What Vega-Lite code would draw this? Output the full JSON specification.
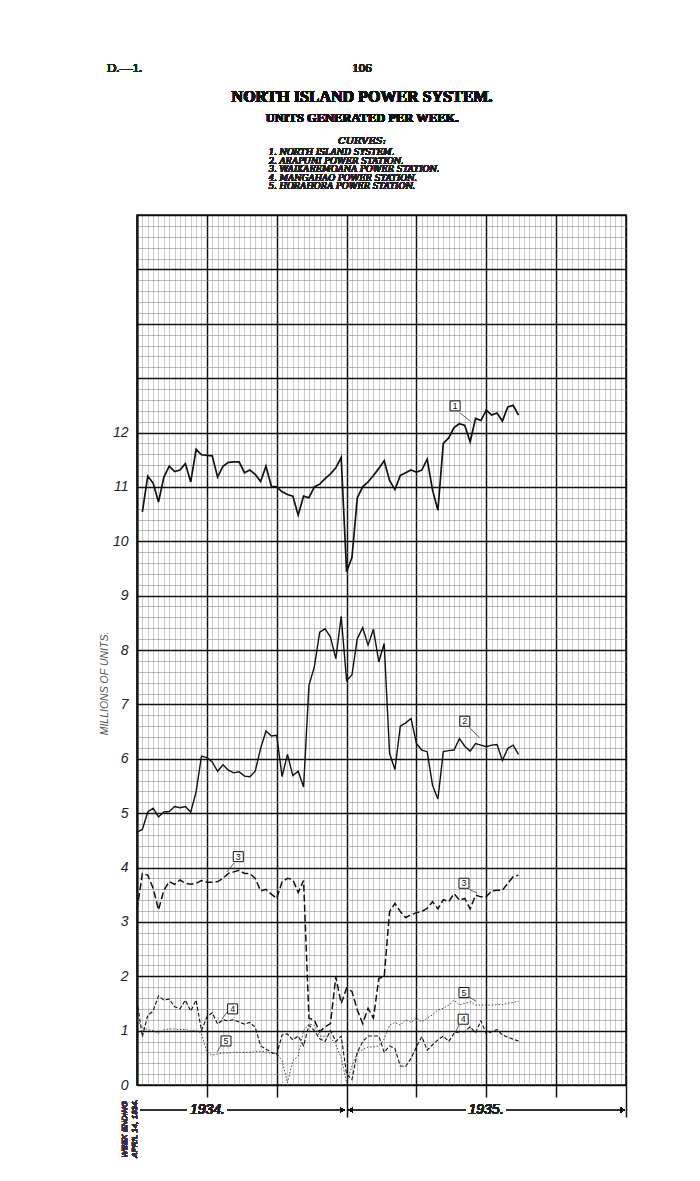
{
  "$schema": "https://vega.github.io/schema/vega-lite/v6.json",
  "autosize": "none",
  "width": 489,
  "height": 870,
  "padding": {"left": 137, "top": 215, "right": 74, "bottom": 96},
  "background": "white",
  "config": {
    "view": {"stroke": "#111", "strokeWidth": 1.5},
    "text": {"font": "Liberation Sans"}
  },
  "datasets": {
    "curves": [
      {"s":1,"w":1,"v":10.54},{"s":1,"w":2,"v":11.2},{"s":1,"w":3,"v":11.07},{"s":1,"w":4,"v":10.72},{"s":1,"w":5,"v":11.18},{"s":1,"w":6,"v":11.38},{"s":1,"w":7,"v":11.28},{"s":1,"w":8,"v":11.31},{"s":1,"w":9,"v":11.43},{"s":1,"w":10,"v":11.09},{"s":1,"w":11,"v":11.69},{"s":1,"w":12,"v":11.59},{"s":1,"w":13,"v":11.58},{"s":1,"w":14,"v":11.57},{"s":1,"w":15,"v":11.18},{"s":1,"w":16,"v":11.38},{"s":1,"w":17,"v":11.45},{"s":1,"w":18,"v":11.46},{"s":1,"w":19,"v":11.46},{"s":1,"w":20,"v":11.26},{"s":1,"w":21,"v":11.31},{"s":1,"w":22,"v":11.23},{"s":1,"w":23,"v":11.1},{"s":1,"w":24,"v":11.38},{"s":1,"w":25,"v":11.01},{"s":1,"w":26,"v":11.0},{"s":1,"w":27,"v":10.91},{"s":1,"w":28,"v":10.86},{"s":1,"w":29,"v":10.83},{"s":1,"w":30,"v":10.48},{"s":1,"w":31,"v":10.83},{"s":1,"w":32,"v":10.8},{"s":1,"w":33,"v":11.0},{"s":1,"w":34,"v":11.05},{"s":1,"w":35,"v":11.15},{"s":1,"w":36,"v":11.24},{"s":1,"w":37,"v":11.35},{"s":1,"w":38,"v":11.54},{"s":1,"w":39,"v":9.44},{"s":1,"w":40,"v":9.7},{"s":1,"w":41,"v":10.8},{"s":1,"w":42,"v":11.0},{"s":1,"w":43,"v":11.09},{"s":1,"w":44,"v":11.21},{"s":1,"w":45,"v":11.34},{"s":1,"w":46,"v":11.48},{"s":1,"w":47,"v":11.12},{"s":1,"w":48,"v":10.95},{"s":1,"w":49,"v":11.21},{"s":1,"w":50,"v":11.26},{"s":1,"w":51,"v":11.31},{"s":1,"w":52,"v":11.27},{"s":1,"w":53,"v":11.31},{"s":1,"w":54,"v":11.51},{"s":1,"w":55,"v":10.94},{"s":1,"w":56,"v":10.57},{"s":1,"w":57,"v":11.8},{"s":1,"w":58,"v":11.9},{"s":1,"w":59,"v":12.09},{"s":1,"w":60,"v":12.16},{"s":1,"w":61,"v":12.13},{"s":1,"w":62,"v":11.83},{"s":1,"w":63,"v":12.26},{"s":1,"w":64,"v":12.22},{"s":1,"w":65,"v":12.41},{"s":1,"w":66,"v":12.32},{"s":1,"w":67,"v":12.36},{"s":1,"w":68,"v":12.21},{"s":1,"w":69,"v":12.47},{"s":1,"w":70,"v":12.5},{"s":1,"w":71,"v":12.32},
      {"s":2,"w":0,"v":4.65},{"s":2,"w":1,"v":4.7},{"s":2,"w":2,"v":5.02},{"s":2,"w":3,"v":5.09},{"s":2,"w":4,"v":4.93},{"s":2,"w":5,"v":5.02},{"s":2,"w":6,"v":5.03},{"s":2,"w":7,"v":5.12},{"s":2,"w":8,"v":5.1},{"s":2,"w":9,"v":5.12},{"s":2,"w":10,"v":5.02},{"s":2,"w":11,"v":5.39},{"s":2,"w":12,"v":6.05},{"s":2,"w":13,"v":6.02},{"s":2,"w":14,"v":5.94},{"s":2,"w":15,"v":5.77},{"s":2,"w":16,"v":5.89},{"s":2,"w":17,"v":5.79},{"s":2,"w":18,"v":5.74},{"s":2,"w":19,"v":5.76},{"s":2,"w":20,"v":5.68},{"s":2,"w":21,"v":5.67},{"s":2,"w":22,"v":5.77},{"s":2,"w":23,"v":6.19},{"s":2,"w":24,"v":6.51},{"s":2,"w":25,"v":6.42},{"s":2,"w":26,"v":6.43},{"s":2,"w":27,"v":5.67},{"s":2,"w":28,"v":6.08},{"s":2,"w":29,"v":5.69},{"s":2,"w":30,"v":5.77},{"s":2,"w":31,"v":5.48},{"s":2,"w":32,"v":7.35},{"s":2,"w":33,"v":7.69},{"s":2,"w":34,"v":8.33},{"s":2,"w":35,"v":8.39},{"s":2,"w":36,"v":8.24},{"s":2,"w":37,"v":7.84},{"s":2,"w":38,"v":8.62},{"s":2,"w":39,"v":7.44},{"s":2,"w":40,"v":7.54},{"s":2,"w":41,"v":8.21},{"s":2,"w":42,"v":8.41},{"s":2,"w":43,"v":8.09},{"s":2,"w":44,"v":8.38},{"s":2,"w":45,"v":7.78},{"s":2,"w":46,"v":8.12},{"s":2,"w":47,"v":6.1},{"s":2,"w":48,"v":5.8},{"s":2,"w":49,"v":6.6},{"s":2,"w":50,"v":6.66},{"s":2,"w":51,"v":6.74},{"s":2,"w":52,"v":6.28},{"s":2,"w":53,"v":6.16},{"s":2,"w":54,"v":6.13},{"s":2,"w":55,"v":5.51},{"s":2,"w":56,"v":5.26},{"s":2,"w":57,"v":6.13},{"s":2,"w":58,"v":6.15},{"s":2,"w":59,"v":6.16},{"s":2,"w":60,"v":6.37},{"s":2,"w":61,"v":6.23},{"s":2,"w":62,"v":6.14},{"s":2,"w":63,"v":6.28},{"s":2,"w":64,"v":6.25},{"s":2,"w":65,"v":6.22},{"s":2,"w":66,"v":6.25},{"s":2,"w":67,"v":6.26},{"s":2,"w":68,"v":5.97},{"s":2,"w":69,"v":6.19},{"s":2,"w":70,"v":6.25},{"s":2,"w":71,"v":6.08},
      {"s":3,"w":0,"v":3.22},{"s":3,"w":1,"v":3.89},{"s":3,"w":2,"v":3.86},{"s":3,"w":3,"v":3.62},{"s":3,"w":4,"v":3.22},{"s":3,"w":5,"v":3.58},{"s":3,"w":6,"v":3.74},{"s":3,"w":7,"v":3.69},{"s":3,"w":8,"v":3.77},{"s":3,"w":9,"v":3.71},{"s":3,"w":10,"v":3.69},{"s":3,"w":11,"v":3.71},{"s":3,"w":12,"v":3.76},{"s":3,"w":13,"v":3.73},{"s":3,"w":14,"v":3.73},{"s":3,"w":15,"v":3.74},{"s":3,"w":16,"v":3.8},{"s":3,"w":17,"v":3.89},{"s":3,"w":18,"v":3.92},{"s":3,"w":19,"v":3.95},{"s":3,"w":20,"v":3.89},{"s":3,"w":21,"v":3.89},{"s":3,"w":22,"v":3.8},{"s":3,"w":23,"v":3.57},{"s":3,"w":24,"v":3.6},{"s":3,"w":25,"v":3.51},{"s":3,"w":26,"v":3.43},{"s":3,"w":27,"v":3.74},{"s":3,"w":28,"v":3.8},{"s":3,"w":29,"v":3.78},{"s":3,"w":30,"v":3.54},{"s":3,"w":31,"v":3.76},{"s":3,"w":32,"v":1.23},{"s":3,"w":33,"v":1.19},{"s":3,"w":34,"v":0.98},{"s":3,"w":35,"v":1.07},{"s":3,"w":36,"v":1.13},{"s":3,"w":37,"v":1.99},{"s":3,"w":38,"v":1.5},{"s":3,"w":39,"v":1.78},{"s":3,"w":40,"v":1.72},{"s":3,"w":41,"v":1.38},{"s":3,"w":42,"v":1.13},{"s":3,"w":43,"v":1.41},{"s":3,"w":44,"v":1.23},{"s":3,"w":45,"v":1.96},{"s":3,"w":46,"v":1.99},{"s":3,"w":47,"v":3.19},{"s":3,"w":48,"v":3.34},{"s":3,"w":49,"v":3.19},{"s":3,"w":50,"v":3.08},{"s":3,"w":51,"v":3.13},{"s":3,"w":52,"v":3.17},{"s":3,"w":53,"v":3.19},{"s":3,"w":54,"v":3.25},{"s":3,"w":55,"v":3.37},{"s":3,"w":56,"v":3.24},{"s":3,"w":57,"v":3.41},{"s":3,"w":58,"v":3.37},{"s":3,"w":59,"v":3.52},{"s":3,"w":60,"v":3.4},{"s":3,"w":61,"v":3.43},{"s":3,"w":62,"v":3.24},{"s":3,"w":63,"v":3.49},{"s":3,"w":64,"v":3.46},{"s":3,"w":65,"v":3.46},{"s":3,"w":66,"v":3.57},{"s":3,"w":67,"v":3.58},{"s":3,"w":68,"v":3.58},{"s":3,"w":69,"v":3.71},{"s":3,"w":70,"v":3.83},{"s":3,"w":71,"v":3.86},
      {"s":4,"w":0,"v":1.55},{"s":4,"w":1,"v":0.89},{"s":4,"w":2,"v":1.28},{"s":4,"w":3,"v":1.36},{"s":4,"w":4,"v":1.64},{"s":4,"w":5,"v":1.56},{"s":4,"w":6,"v":1.58},{"s":4,"w":7,"v":1.44},{"s":4,"w":8,"v":1.4},{"s":4,"w":9,"v":1.56},{"s":4,"w":10,"v":1.36},{"s":4,"w":11,"v":1.56},{"s":4,"w":12,"v":1.0},{"s":4,"w":13,"v":1.25},{"s":4,"w":14,"v":1.33},{"s":4,"w":15,"v":1.12},{"s":4,"w":16,"v":1.2},{"s":4,"w":17,"v":1.18},{"s":4,"w":18,"v":1.2},{"s":4,"w":19,"v":1.16},{"s":4,"w":20,"v":1.12},{"s":4,"w":21,"v":1.15},{"s":4,"w":22,"v":1.06},{"s":4,"w":23,"v":0.72},{"s":4,"w":24,"v":0.66},{"s":4,"w":25,"v":0.6},{"s":4,"w":26,"v":0.56},{"s":4,"w":27,"v":0.92},{"s":4,"w":28,"v":0.94},{"s":4,"w":29,"v":0.83},{"s":4,"w":30,"v":0.9},{"s":4,"w":31,"v":0.72},{"s":4,"w":32,"v":1.1},{"s":4,"w":33,"v":1.0},{"s":4,"w":34,"v":0.85},{"s":4,"w":35,"v":0.8},{"s":4,"w":36,"v":1.0},{"s":4,"w":37,"v":0.8},{"s":4,"w":38,"v":0.9},{"s":4,"w":39,"v":0.2},{"s":4,"w":40,"v":0.1},{"s":4,"w":41,"v":0.6},{"s":4,"w":42,"v":0.8},{"s":4,"w":43,"v":0.9},{"s":4,"w":44,"v":0.9},{"s":4,"w":45,"v":0.9},{"s":4,"w":46,"v":0.6},{"s":4,"w":47,"v":0.72},{"s":4,"w":48,"v":0.67},{"s":4,"w":49,"v":0.35},{"s":4,"w":50,"v":0.34},{"s":4,"w":51,"v":0.49},{"s":4,"w":52,"v":0.7},{"s":4,"w":53,"v":0.89},{"s":4,"w":54,"v":0.64},{"s":4,"w":55,"v":0.74},{"s":4,"w":56,"v":0.83},{"s":4,"w":57,"v":0.9},{"s":4,"w":58,"v":0.8},{"s":4,"w":59,"v":0.95},{"s":4,"w":60,"v":0.98},{"s":4,"w":61,"v":0.98},{"s":4,"w":62,"v":1.07},{"s":4,"w":63,"v":0.96},{"s":4,"w":64,"v":1.18},{"s":4,"w":65,"v":0.94},{"s":4,"w":66,"v":0.98},{"s":4,"w":67,"v":1.02},{"s":4,"w":68,"v":0.92},{"s":4,"w":69,"v":0.88},{"s":4,"w":70,"v":0.84},{"s":4,"w":71,"v":0.81},
      {"s":5,"w":0,"v":1.2},{"s":5,"w":1,"v":1.05},{"s":5,"w":2,"v":1.02},{"s":5,"w":3,"v":1.0},{"s":5,"w":4,"v":0.95},{"s":5,"w":5,"v":1.02},{"s":5,"w":6,"v":1.03},{"s":5,"w":7,"v":1.03},{"s":5,"w":8,"v":1.02},{"s":5,"w":9,"v":1.02},{"s":5,"w":10,"v":1.0},{"s":5,"w":11,"v":1.01},{"s":5,"w":12,"v":0.95},{"s":5,"w":13,"v":0.6},{"s":5,"w":14,"v":0.55},{"s":5,"w":15,"v":0.57},{"s":5,"w":16,"v":0.59},{"s":5,"w":17,"v":0.59},{"s":5,"w":18,"v":0.6},{"s":5,"w":19,"v":0.6},{"s":5,"w":20,"v":0.6},{"s":5,"w":21,"v":0.6},{"s":5,"w":22,"v":0.61},{"s":5,"w":23,"v":0.62},{"s":5,"w":24,"v":0.61},{"s":5,"w":25,"v":0.58},{"s":5,"w":26,"v":0.58},{"s":5,"w":27,"v":0.45},{"s":5,"w":28,"v":0.04},{"s":5,"w":29,"v":0.45},{"s":5,"w":30,"v":0.53},{"s":5,"w":31,"v":1.0},{"s":5,"w":32,"v":1.12},{"s":5,"w":33,"v":1.1},{"s":5,"w":34,"v":0.9},{"s":5,"w":35,"v":0.9},{"s":5,"w":36,"v":0.87},{"s":5,"w":37,"v":0.74},{"s":5,"w":38,"v":0.5},{"s":5,"w":39,"v":0.04},{"s":5,"w":40,"v":0.35},{"s":5,"w":41,"v":0.6},{"s":5,"w":42,"v":0.65},{"s":5,"w":43,"v":0.7},{"s":5,"w":44,"v":0.7},{"s":5,"w":45,"v":0.72},{"s":5,"w":46,"v":0.85},{"s":5,"w":47,"v":1.1},{"s":5,"w":48,"v":1.15},{"s":5,"w":49,"v":1.1},{"s":5,"w":50,"v":1.2},{"s":5,"w":51,"v":1.15},{"s":5,"w":52,"v":1.23},{"s":5,"w":53,"v":1.16},{"s":5,"w":54,"v":1.23},{"s":5,"w":55,"v":1.29},{"s":5,"w":56,"v":1.38},{"s":5,"w":57,"v":1.41},{"s":5,"w":58,"v":1.47},{"s":5,"w":59,"v":1.56},{"s":5,"w":60,"v":1.47},{"s":5,"w":61,"v":1.5},{"s":5,"w":62,"v":1.53},{"s":5,"w":63,"v":1.47},{"s":5,"w":64,"v":1.47},{"s":5,"w":65,"v":1.47},{"s":5,"w":66,"v":1.47},{"s":5,"w":67,"v":1.48},{"s":5,"w":68,"v":1.48},{"s":5,"w":69,"v":1.5},{"s":5,"w":70,"v":1.52},{"s":5,"w":71,"v":1.54}
    ],
    "tags": [
      {"n":"1","w":59.2,"v":12.49,"ax":60.1,"ay":12.36,"bx":62.0,"by":12.21},
      {"n":"2","w":61.0,"v":6.69,"ax":61.8,"ay":6.58,"bx":63.8,"by":6.38},
      {"n":"3","w":18.85,"v":4.2,"ax":18.05,"ay":4.08,"bx":16.75,"by":3.92},
      {"n":"3","w":60.85,"v":3.71,"ax":61.8,"ay":3.6,"bx":63.3,"by":3.53},
      {"n":"4","w":17.8,"v":1.4,"ax":16.75,"ay":1.34,"bx":15.8,"by":1.21},
      {"n":"4","w":60.7,"v":1.21,"ax":59.9,"ay":1.1,"bx":59.2,"by":0.96},
      {"n":"5","w":16.56,"v":0.81,"ax":15.6,"ay":0.72,"bx":14.9,"by":0.61},
      {"n":"5","w":60.85,"v":1.7,"ax":61.8,"ay":1.62,"bx":63.1,"by":1.54}
    ]
  },
  "encoding": {
    "x": {"type": "quantitative",
      "scale": {"domain": [0, 91], "nice": false, "zero": false},
      "axis": {
        "values": [0,1,2,3,4,5,6,7,8,9,10,11,12,13,14,15,16,17,18,19,20,21,22,23,24,25,26,27,28,29,30,31,32,33,34,35,36,37,38,39,40,41,42,43,44,45,46,47,48,49,50,51,52,53,54,55,56,57,58,59,60,61,62,63,64,65,66,67,68,69,70,71,72,73,74,75,76,77,78,79,80,81,82,83,84,85,86,87,88,89,90,91],
        "title": null, "labels": false, "domain": false,
        "grid": true,
        "gridColor": {"condition": {"test": "datum.value % 13 === 0", "value": "#111"}, "value": "#a8a8a8"},
        "gridWidth": {"condition": {"test": "datum.value % 13 === 0", "value": 1.5}, "value": 0.6},
        "ticks": true, "tickColor": "#111", "tickWidth": 1.5,
        "tickSize": {"condition": {"test": "datum.value === 39 || datum.value === 91", "value": 32}, "value": 12},
        "tickOpacity": {"condition": {"test": "datum.value % 13 === 0 && datum.value > 0", "value": 1}, "value": 0}
      }},
    "y": {"type": "quantitative",
      "scale": {"domain": [0, 16], "nice": false, "zero": true},
      "axis": {
        "values": [0,0.2,0.4,0.6,0.8,1,1.2,1.4,1.6,1.8,2,2.2,2.4,2.6,2.8,3,3.2,3.4,3.6,3.8,4,4.2,4.4,4.6,4.8,5,5.2,5.4,5.6,5.8,6,6.2,6.4,6.6,6.8,7,7.2,7.4,7.6,7.8,8,8.2,8.4,8.6,8.8,9,9.2,9.4,9.6,9.8,10,10.2,10.4,10.6,10.8,11,11.2,11.4,11.6,11.8,12,12.2,12.4,12.6,12.8,13,13.2,13.4,13.6,13.8,14,14.2,14.4,14.6,14.8,15,15.2,15.4,15.6,15.8,16],
        "grid": true,
        "gridColor": {"condition": {"test": "abs(datum.value - round(datum.value)) < 0.001", "value": "#111"}, "value": "#8c8c8c"},
        "gridWidth": {"condition": {"test": "abs(datum.value - round(datum.value)) < 0.001", "value": 1.3}, "value": 0.6},
        "ticks": false, "domain": true, "domainColor": "#111", "domainWidth": 2,
        "labelExpr": "datum.value <= 12 && abs(datum.value - round(datum.value)) < 0.001 ? format(datum.value, 'd') : ''",
        "labelFont": "Liberation Sans", "labelFontStyle": "italic", "labelFontSize": 14, "labelColor": "#222", "labelPadding": 9,
        "title": "MILLIONS OF UNITS.", "titleFont": "Liberation Sans", "titleFontStyle": "italic", "titleFontWeight": "normal",
        "titleFontSize": 10.5, "titleColor": "#555", "titleAngle": 270, "titleX": -33, "titleY": 468, "titleBaseline": "middle", "titleAlign": "center"
      }}
  },
  "data": {"name": "curves"},
  "layer": [
    {
      "transform": [{"filter": "datum.s === 1"}],
      "mark": {"type": "line", "color": "#111", "strokeWidth": 1.7, "strokeJoin": "miter"},
      "encoding": {"x": {"field": "w"}, "y": {"field": "v"}}
    },
    {
      "transform": [{"filter": "datum.s === 2"}],
      "mark": {"type": "line", "color": "#111", "strokeWidth": 1.4, "strokeJoin": "miter"},
      "encoding": {"x": {"field": "w"}, "y": {"field": "v"}}
    },
    {
      "transform": [{"filter": "datum.s === 3"}],
      "mark": {"type": "line", "color": "#111", "strokeWidth": 1.5, "strokeDash": [7, 3]},
      "encoding": {"x": {"field": "w"}, "y": {"field": "v"}}
    },
    {
      "transform": [{"filter": "datum.s === 4"}],
      "mark": {"type": "line", "color": "#111", "strokeWidth": 1.1, "strokeDash": [4, 2]},
      "encoding": {"x": {"field": "w"}, "y": {"field": "v"}}
    },
    {
      "transform": [{"filter": "datum.s === 5"}],
      "mark": {"type": "line", "color": "#333", "strokeWidth": 0.9, "strokeDash": [1.5, 1.8]},
      "encoding": {"x": {"field": "w"}, "y": {"field": "v"}}
    },
    {
      "data": {"name": "tags"},
      "mark": {"type": "rule", "color": "#333", "strokeWidth": 0.8},
      "encoding": {"x": {"field": "ax"}, "y": {"field": "ay"}, "x2": {"field": "bx"}, "y2": {"field": "by"}}
    },
    {
      "data": {"name": "tags"},
      "mark": {"type": "point", "shape": "square", "size": 100, "filled": true, "fill": "white", "stroke": "#111", "strokeWidth": 1, "opacity": 1},
      "encoding": {"x": {"field": "w"}, "y": {"field": "v"}}
    },
    {
      "data": {"name": "tags"},
      "mark": {"type": "text", "fontSize": 9, "color": "#111", "align": "center", "baseline": "middle", "font": "Liberation Sans"},
      "encoding": {"x": {"field": "w"}, "y": {"field": "v"}, "text": {"field": "n"}}
    },
    {
      "mark": {"type": "rule", "color": "#333", "strokeWidth": 0.8, "clip": false},
      "encoding": {"x": {"datum": 0.56}, "x2": {"datum": 9.3}, "y": {"datum": -0.46}}
    },
    {
      "mark": {"type": "rule", "color": "#333", "strokeWidth": 0.8, "clip": false},
      "encoding": {"x": {"datum": 16.9}, "x2": {"datum": 38.4}, "y": {"datum": -0.46}}
    },
    {
      "mark": {"type": "rule", "color": "#333", "strokeWidth": 0.8, "clip": false},
      "encoding": {"x": {"datum": 39.6}, "x2": {"datum": 61.2}, "y": {"datum": -0.46}}
    },
    {
      "mark": {"type": "rule", "color": "#333", "strokeWidth": 0.8, "clip": false},
      "encoding": {"x": {"datum": 68.7}, "x2": {"datum": 90.6}, "y": {"datum": -0.46}}
    },
    {
      "mark": {"type": "point", "shape": "triangle-right", "size": 22, "filled": true, "color": "#111", "opacity": 1, "clip": false},
      "encoding": {"x": {"datum": 38.2}, "y": {"datum": -0.46}}
    },
    {
      "mark": {"type": "point", "shape": "triangle-left", "size": 22, "filled": true, "color": "#111", "opacity": 1, "clip": false},
      "encoding": {"x": {"datum": 39.8}, "y": {"datum": -0.46}}
    },
    {
      "mark": {"type": "point", "shape": "triangle-right", "size": 22, "filled": true, "color": "#111", "opacity": 1, "clip": false},
      "encoding": {"x": {"datum": 90.4}, "y": {"datum": -0.46}}
    },
    {
      "mark": {"type": "text", "text": "1934.", "font": "Liberation Sans", "fontStyle": "italic", "fontSize": 14, "color": "#222", "align": "center", "baseline": "middle", "clip": false},
      "encoding": {"x": {"datum": 13.1}, "y": {"datum": -0.46}}
    },
    {
      "mark": {"type": "text", "text": "1935.", "font": "Liberation Sans", "fontStyle": "italic", "fontSize": 14, "color": "#222", "align": "center", "baseline": "middle", "clip": false},
      "encoding": {"x": {"datum": 64.95}, "y": {"datum": -0.46}}
    },
    {
      "mark": {"type": "text", "text": ["WEEK ENDING", "APRIL 14, 1934."], "font": "Liberation Sans", "fontStyle": "italic", "fontSize": 8, "lineHeight": 10, "color": "#333", "align": "left", "baseline": "middle", "angle": 270, "clip": false},
      "encoding": {"x": {"datum": -2.2}, "y": {"datum": -1.34}}
    },
    {
      "mark": {"type": "text", "text": "D.—1.", "font": "Liberation Serif", "fontSize": 13, "color": "#222", "align": "left", "baseline": "middle", "clip": false},
      "encoding": {"x": {"datum": -5.6}, "y": {"datum": 18.7}}
    },
    {
      "mark": {"type": "text", "text": "106", "font": "Liberation Serif", "fontSize": 13, "color": "#222", "align": "center", "baseline": "middle", "clip": false},
      "encoding": {"x": {"datum": 41.87}, "y": {"datum": 18.7}}
    },
    {
      "mark": {"type": "text", "text": "NORTH ISLAND POWER SYSTEM.", "font": "Liberation Serif", "fontWeight": "bold", "fontSize": 16, "color": "#111", "align": "center", "baseline": "middle", "clip": false},
      "encoding": {"x": {"datum": 41.87}, "y": {"datum": 18.17}}
    },
    {
      "mark": {"type": "text", "text": "UNITS GENERATED PER WEEK.", "font": "Liberation Serif", "fontWeight": "bold", "fontSize": 12.5, "color": "#111", "align": "center", "baseline": "middle", "clip": false},
      "encoding": {"x": {"datum": 41.87}, "y": {"datum": 17.78}}
    },
    {
      "mark": {"type": "text", "text": "CURVES:", "font": "DejaVu Serif", "fontStyle": "italic", "fontSize": 10, "color": "#222", "align": "center", "baseline": "middle", "clip": false},
      "encoding": {"x": {"datum": 41.87}, "y": {"datum": 17.37}}
    },
    {
      "mark": {"type": "text", "text": ["1.  NORTH ISLAND SYSTEM.", "2.  ARAPUNI POWER STATION.", "3.  WAIKAREMOANA POWER STATION.", "4.  MANGAHAO POWER STATION.", "5.  HORAHORA POWER STATION."], "font": "DejaVu Serif", "fontStyle": "italic", "fontSize": 8.5, "lineHeight": 8.4, "color": "#222", "align": "left", "baseline": "middle", "clip": false},
      "encoding": {"x": {"datum": 24.5}, "y": {"datum": 17.15}}
    }
  ]
}
